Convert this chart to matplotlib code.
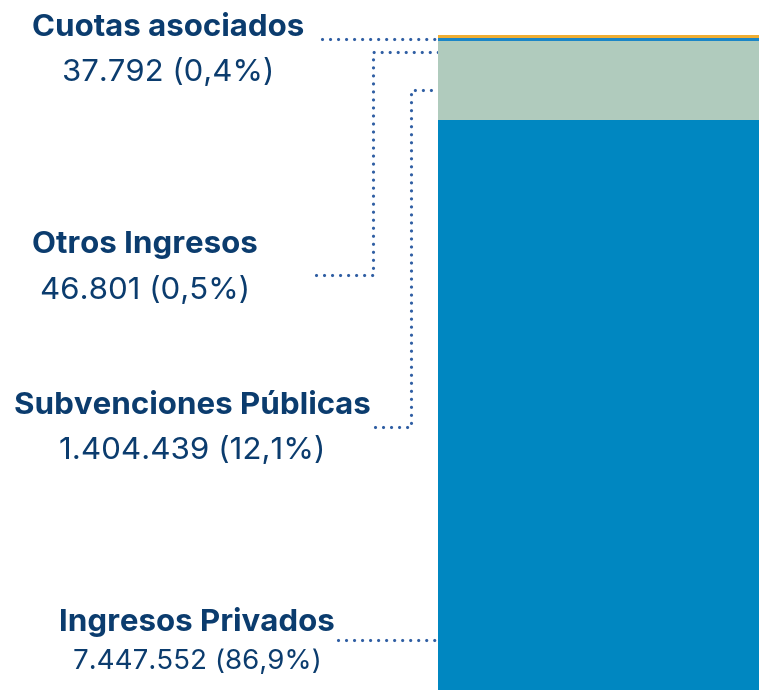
"""Stacked single bar: income sources with dotted leader labels."""
import matplotlib
matplotlib.use("Agg")
import matplotlib.pyplot as plt

plt.rcParams["font.family"] = ["Inter", "DejaVu Sans"]

W, H = 759, 690
C_TEXT, C_LINE = "#0b3c6e", "#2f5ea3"

# data, bottom to top of the bar
sources = ["Ingresos Privados", "Subvenciones Públicas", "Otros Ingresos", "Cuotas asociados"]
amounts = ["7.447.552", "1.404.439", "46.801", "37.792"]
shares = [86.9, 12.1, 0.5, 0.4]
colors = ["#0087c1", "#b0cbbd", "#1b86c6", "#f0ae33"]

fig = plt.figure(figsize=(W / 100, H / 100), dpi=100)

# the bar
bar_top = 35
axb = fig.add_axes([438 / W, 0, 1 - 438 / W, (H - bar_top) / H])
bottom = 0
for s, c in zip(shares, colors):
    axb.bar(0, s, bottom=bottom, width=1, color=c, linewidth=0)
    bottom += s
axb.set_xlim(-0.5, 0.5)
axb.set_ylim(0, sum(shares))
axb.axis("off")

# overlay in pixel coordinates for labels and leaders
ax = fig.add_axes([0, 0, 1, 1], zorder=-1)
ax.set_xlim(0, W)
ax.set_ylim(H, 0)
ax.axis("off")

dots = dict(color=C_LINE, lw=2.3, ls=(0, (0.01, 2.5)), dash_capstyle="round")

# label layout: (name x, name y, value y, value size, leader path)
layout = {
    "Cuotas asociados": (168, 28, 73, 22.4, [(322, 39), (438, 39)]),
    "Otros Ingresos": (145, 245, 290, 22.5, [(316, 275), (373, 275), (373, 52), (438, 52)]),
    "Subvenciones Públicas": (192, 406, 450, 22.6, [(375, 427), (411, 427), (411, 90), (438, 90)]),
    "Ingresos Privados": (197, 622, 662, 20, [(338, 640), (438, 640)]),
}

for name, amt, sh in zip(sources, amounts, shares):
    x, yn, yv, fs, path = layout[name]
    pct = str(sh).replace(".", ",")
    ax.text(x, yn, name, ha="center", va="center", fontsize=22.5, fontweight="bold", color=C_TEXT)
    ax.text(x, yv, f"{amt} ({pct}%)", ha="center", va="center", fontsize=fs, color=C_TEXT)
    xs, ys = zip(*path)
    ax.plot(xs, ys, **dots)

fig.savefig("out.png", dpi=100)
